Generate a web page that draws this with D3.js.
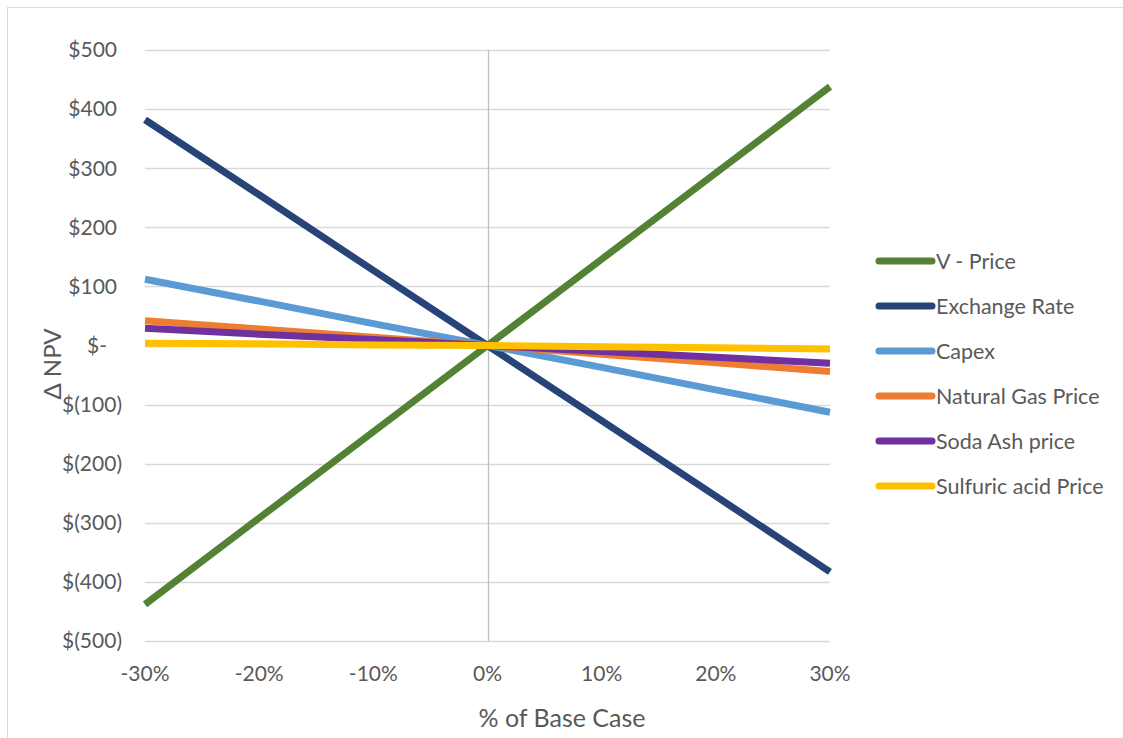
<!DOCTYPE html>
<html>
<head>
<meta charset="utf-8">
<script src="https://cdn.jsdelivr.net/npm/d3@7"></script>
<style>
  html, body { margin: 0; padding: 0; background: #fff; }
  svg { display: block; font-family: Lato, "Open Sans", "Liberation Sans", sans-serif; }
</style>
</head>
<body>
<svg id="chart" width="1123" height="738"></svg>
<script>
// Sensitivity of NPV to each input, as % change from the base case
const pctChange = [-0.30, -0.20, -0.10, 0, 0.10, 0.20, 0.30];
const seriesNames = ["V - Price", "Exchange Rate", "Capex", "Natural Gas Price", "Soda Ash price", "Sulfuric acid Price"];
const vPrice       = [-438, -292, -146, 0, 146, 292, 438];
const exchangeRate = [382, 255, 127, 0, -127, -255, -383];
const capex        = [112, 75, 37, 0, -37, -75, -113];
const naturalGas   = [42, 28, 14, 0, -15, -29, -44];
const sodaAsh      = [29, 19, 10, 0, -10, -20, -30];
const sulfuricAcid = [4, 3, 1, 0, -2, -4, -6];
const seriesColors = ["#548235", "#264478", "#5B9BD5", "#ED7D31", "#7030A0", "#FFC000"];
const yTicks = [500, 400, 300, 200, 100, 0, -100, -200, -300, -400, -500];
const xTicks = [-0.30, -0.20, -0.10, 0, 0.10, 0.20, 0.30];

const seriesValues = [vPrice, exchangeRate, capex, naturalGas, sodaAsh, sulfuricAcid];
const series = seriesNames.map((name, i) => ({
  name, color: seriesColors[i],
  points: pctChange.map((p, j) => ({ x: p, y: seriesValues[i][j] }))
}));

const svg = d3.select("#chart");
const textColor = "#595959";

// chart area border
svg.append("rect")
  .attr("x", 7.5).attr("y", 7.5).attr("width", 1140).attr("height", 760)
  .attr("fill", "none").attr("stroke", "#d9d9d9").attr("stroke-width", 1);

const x = d3.scaleLinear().domain([-0.30, 0.30]).range([145, 830]);
const y = d3.scaleLinear().domain([-500, 500]).range([641, 50]);

// horizontal gridlines
svg.append("g").selectAll("line").data(yTicks).join("line")
  .attr("x1", x(-0.30)).attr("x2", x(0.30))
  .attr("y1", d => Math.round(y(d)) + 0.5).attr("y2", d => Math.round(y(d)) + 0.5)
  .attr("stroke", "#d9d9d9").attr("stroke-width", 1.3);

// vertical axis line crossing at 0%
svg.append("line")
  .attr("x1", Math.round(x(0)) + 0.5).attr("x2", Math.round(x(0)) + 0.5)
  .attr("y1", y(500)).attr("y2", y(-500))
  .attr("stroke", "#bfbfbf").attr("stroke-width", 1.3);

// y tick labels in accounting style
const fmtY = d => d === 0 ? "$-" : d > 0 ? "$" + d : "$(" + (-d) + ")";
svg.append("g").selectAll("text").data(yTicks).join("text")
  .attr("x", d => d === 0 ? 107 : d > 0 ? 117 : 122)
  .attr("y", d => y(d))
  .attr("dy", "0.35em")
  .attr("text-anchor", "end")
  .attr("font-size", 21)
  .attr("fill", textColor)
  .text(fmtY);

// x tick labels
const fmtX = d => (d < 0 ? "-" : "") + Math.round(Math.abs(d) * 100) + "%";
svg.append("g").selectAll("text").data(xTicks).join("text")
  .attr("x", d => x(d))
  .attr("y", 674)
  .attr("dy", "0.35em")
  .attr("text-anchor", "middle")
  .attr("font-size", 21)
  .attr("fill", textColor)
  .text(fmtX);

// axis titles
svg.append("text")
  .attr("transform", "translate(61,364) rotate(-90)")
  .attr("text-anchor", "middle")
  .attr("font-size", 24)
  .attr("fill", textColor)
  .text("Δ NPV");

svg.append("text")
  .attr("x", 562).attr("y", 718).attr("dy", "0.35em")
  .attr("text-anchor", "middle")
  .attr("font-size", 25)
  .attr("fill", textColor)
  .text("% of Base Case");

// series lines
const line = d3.line().x(d => x(d.x)).y(d => y(d.y));
svg.append("g").selectAll("path").data(series).join("path")
  .attr("d", d => line(d.points))
  .attr("fill", "none")
  .attr("stroke", d => d.color)
  .attr("stroke-width", 7);

// legend
const legend = svg.append("g").selectAll("g").data(series).join("g")
  .attr("transform", (d, i) => `translate(876,${261 + i * 45})`);
legend.append("line")
  .attr("x1", 3).attr("x2", 56).attr("y1", 0).attr("y2", 0)
  .attr("stroke", d => d.color).attr("stroke-width", 7)
  .attr("stroke-linecap", "round");
legend.append("text")
  .attr("x", 60).attr("y", 0).attr("dy", "0.35em")
  .attr("font-size", 21.5)
  .attr("fill", textColor)
  .text(d => d.name);
</script>
</body>
</html>
